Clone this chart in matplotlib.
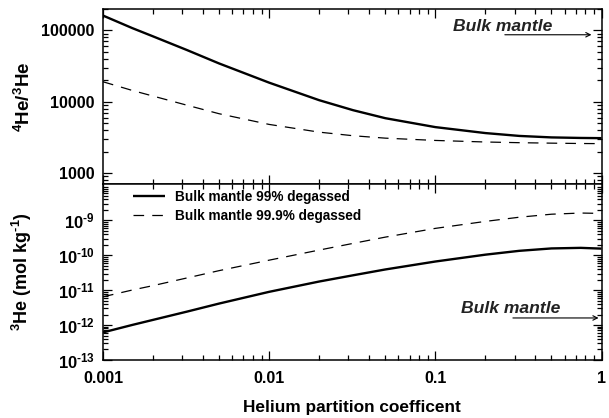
import matplotlib
matplotlib.use("Agg")
import matplotlib.pyplot as plt
from matplotlib.ticker import LogLocator, FixedLocator, FixedFormatter, NullFormatter

plt.rcParams['font.family'] = ['Liberation Sans', 'DejaVu Sans']
plt.rcParams['font.weight'] = 'bold'
plt.rcParams['mathtext.fontset'] = 'custom'
plt.rcParams['mathtext.rm'] = 'Liberation Sans:bold'
plt.rcParams['mathtext.bf'] = 'Liberation Sans:bold'
plt.rcParams['mathtext.it'] = 'Liberation Sans:bold:italic'
plt.rcParams['mathtext.default'] = 'rm'

# ---- data ----
D = [0.001, 0.0015, 0.002, 0.0032, 0.005, 0.01, 0.02, 0.032, 0.05, 0.1, 0.2, 0.32, 0.5, 0.75, 1.0]

ratio_99 = [161800, 107900, 82600, 53100, 34400, 18500, 10500, 7600, 5870, 4400,
            3630, 3310, 3155, 3100, 3080]
ratio_999 = [19050, 14390, 12000, 8930, 6780, 4800, 3740, 3330, 3080, 2860,
             2720, 2660, 2620, 2590, 2580]

he3_99 = [6.17e-13, 1.01e-12, 1.41e-12, 2.43e-12, 4.14e-12, 8.97e-12, 1.77e-11, 2.67e-11,
          3.92e-11, 6.62e-11, 1.04e-10, 1.34e-10, 1.57e-10, 1.63e-10, 1.55e-10]
he3_999 = [6.46e-12, 1.01e-11, 1.35e-11, 2.24e-11, 3.63e-11, 7.24e-11, 1.41e-10, 2.19e-10,
           3.31e-10, 5.89e-10, 9.33e-10, 1.23e-9, 1.50e-9, 1.62e-9, 1.58e-9]

labels = ["Bulk mantle 99% degassed", "Bulk mantle 99.9% degassed"]

x_ticks = [0.001, 0.01, 0.1, 1]
x_ticklabels = ["0.001", "0.01", "0.1", "1"]
top_yticks = [1000, 10000, 100000]
top_yticklabels = ["1000", "10000", "100000"]
bot_yticks = [1e-13, 1e-12, 1e-11, 1e-10, 1e-9]
bot_yticklabels = [r"$10^{\text{-13}}$", r"$10^{\text{-12}}$", r"$10^{\text{-11}}$",
                   r"$10^{\text{-10}}$", r"$10^{\text{-9}}$"]

# arrows "Bulk mantle"
top_arrow = dict(x0=0.262, x1=0.87, y=87000, tx=0.128, ty=98000)
bot_arrow = dict(x0=0.293, x1=0.96, y=1.6e-12, tx=0.143, ty=2.2e-12)

# ---- figure ----
fig = plt.figure(figsize=(6.09, 4.18), dpi=100)
L, R = 103 / 609, 601.5 / 609
ax1 = fig.add_axes([L, 1 - 184 / 418, R - L, (184 - 9) / 418])
ax2 = fig.add_axes([L, 1 - 360 / 418, R - L, (360 - 184) / 418])

solid_kw = dict(color='black', lw=1.7, solid_capstyle='butt', solid_joinstyle='round')
dash_kw = dict(color='black', lw=0.9, dashes=(8.5, 6.5))

ax1.plot(D, ratio_99, **solid_kw)
ax1.plot(D, ratio_999, **dash_kw)
ax2.plot(D, he3_99, label=labels[0], **solid_kw)
ax2.plot(D, he3_999, label=labels[1], **dash_kw)

for ax in (ax1, ax2):
    ax.set_xscale('log')
    ax.set_yscale('log')
    ax.set_xlim(0.001, 1)
    for s in ax.spines.values():
        s.set_linewidth(1.1)
    ax.tick_params(which='both', direction='in', top=True, right=True, width=0.9)
    ax.tick_params(which='major', length=6.5, labelsize=11.5, pad=6)
    ax.tick_params(which='minor', length=3.5)
    ax.tick_params(axis='x', which='major', pad=8)
    ax.xaxis.set_major_locator(FixedLocator(x_ticks))
    ax.xaxis.set_minor_locator(LogLocator(base=10, subs=range(2, 10)))
    ax.xaxis.set_minor_formatter(NullFormatter())
    ax.yaxis.set_minor_locator(LogLocator(base=10, subs=range(2, 10), numticks=20))
    ax.yaxis.set_minor_formatter(NullFormatter())

ax1.set_ylim(700, 200000)
ax1.yaxis.set_major_locator(FixedLocator(top_yticks))
ax1.yaxis.set_major_formatter(FixedFormatter(top_yticklabels))
ax1.set_xticklabels([])
ax1.set_ylabel(r"$^{4}$He/$^{3}$He", fontsize=13.5, fontweight='bold')
ax1.yaxis.set_label_coords(-0.138, 0.5)

ax2.set_ylim(1e-13, 1.1e-8)
ax2.yaxis.set_major_locator(FixedLocator(bot_yticks))
ax2.yaxis.set_major_formatter(FixedFormatter(bot_yticklabels))
ax2.tick_params(axis='y', which='major', labelsize=12)
ax2.xaxis.set_major_formatter(FixedFormatter(x_ticklabels))
ax2.set_ylabel(r"$^{3}$He (mol kg$^{\text{-1}}$)", fontsize=13, fontweight='bold')
ax2.yaxis.set_label_coords(-0.138, 0.5)
ax2.set_xlabel("Helium partition coefficent", fontsize=12.4, fontweight='bold', labelpad=10)

leg = ax2.legend(loc='upper left', bbox_to_anchor=(0.06, 0.968), frameon=False,
                 fontsize=9.8, handlelength=2.35, handletextpad=0.74,
                 labelspacing=0.38, borderaxespad=0.0, borderpad=0.0)
for t in leg.get_texts():
    t.set_fontweight('bold')

for ax, a in ((ax1, top_arrow), (ax2, bot_arrow)):
    ax.annotate("", xy=(a['x1'], a['y']), xytext=(a['x0'], a['y']),
                arrowprops=dict(arrowstyle='->', lw=0.8, color='black',
                                shrinkA=0, shrinkB=0, mutation_scale=8))
    ax.text(a['tx'], a['ty'], "Bulk mantle", fontsize=12.6, fontweight='bold',
            fontstyle='italic', ha='left', va='baseline', color='#222222')

fig.savefig("out.png", dpi=100)
